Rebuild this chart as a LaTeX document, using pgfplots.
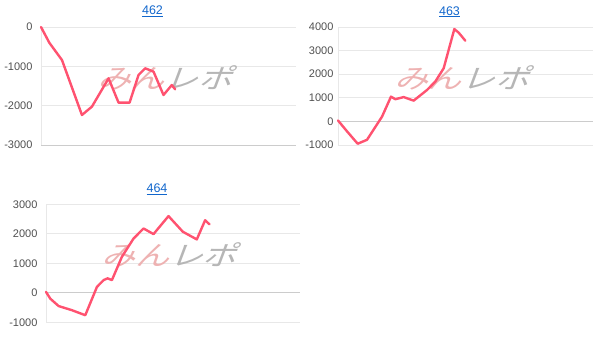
\documentclass[border=0pt]{standalone}
\usepackage{fontspec}
\setmainfont{Liberation Sans}
\newfontfamily\cjk{Noto Sans CJK JP}
\usepackage{pgfplots}
\pgfplotsset{compat=1.18}
\definecolor{linec}{RGB}{255,82,112}
\definecolor{gridc}{RGB}{232,232,232}
\definecolor{basec}{RGB}{204,204,204}
\definecolor{tickc}{RGB}{80,80,80}
\definecolor{titlec}{RGB}{17,102,204}
\definecolor{wmpink}{RGB}{238,178,178}
\definecolor{wmgray}{RGB}{182,182,182}
\pgfplotsset{
  mini/.style={
    scale only axis, width=255pt, height=118pt,
    xmin=0, xmax=766,
    axis line style={draw=none},
    xtick=\empty,
    major tick length=0pt,
    ymajorgrids, grid style={gridc, line width=0.9pt},
    yticklabel style={font=\fontsize{11}{12}\selectfont, text=tickc, anchor=east},
    /pgf/number format/assume math mode=true,
    /pgf/number format/1000 sep={},
    clip=false,
  },
  dl/.style={linec, line width=2.4pt, line join=round, line cap=round, no markers},
}
\newcommand{\mywm}{\node[font=\cjk\fontsize{27}{30}\selectfont, xscale=1.25, xslant=0.3, inner sep=0pt] at (rel axis cs:0.5,0.568) {\textcolor{wmpink}{みん}\textcolor{wmgray}{レポ}};}
\newcommand{\myttl}[1]{\node[anchor=base, font=\fontsize{12.5}{14}\selectfont, text=titlec, inner sep=0pt] at (rel axis cs:0.5,1) [xshift=-16pt, yshift=12pt] {\underline{#1}};}
\newcommand{\myvaxis}{\draw[gridc, line width=0.9pt] (rel axis cs:0,0) -- (rel axis cs:0,1);}
\begin{document}
\begin{tikzpicture}
\path[use as bounding box] (0,0) rectangle (605pt,-347pt);
% 462
\begin{axis}[mini, at={(41pt,-145pt)}, anchor=south west,
  ymin=-3000, ymax=0, ytick={-3000,-2000,-1000,0},
  yticklabel style={xshift=-5pt}]
\myvaxis
\draw[basec, line width=0.9pt] (rel axis cs:0,0) -- (rel axis cs:1,0);
\mywm
\myttl{462}
\addplot[dl] coordinates {(0,0) (25,-400) (63,-840) (123,-2237) (153,-2025) (203,-1305) (233,-1924) (266,-1924) (293,-1220) (313,-1050) (338,-1135) (368,-1729) (393,-1475) (403,-1585)};
\end{axis}
% 463
\begin{axis}[mini, at={(338pt,-145pt)}, anchor=south west, xmax=765,
  ymin=-1000, ymax=4000, ytick={-1000,0,1000,2000,3000,4000},
  yticklabel style={xshift=-1pt}]
\myvaxis
\draw[basec, line width=0.9pt] (axis cs:0,0) -- (axis cs:765,0);
\mywm
\myttl{463}
\addplot[dl] coordinates {(0,40) (27,-420) (59,-946) (87,-780) (132,200) (159,1050) (172,940) (197,1030) (227,880) (267,1330) (292,1690) (317,2250) (332,3030) (349,3912) (362,3760) (382,3420)};
\end{axis}
% 464
\begin{axis}[mini, at={(46pt,-322.3pt)}, anchor=south west, width=254pt, xmax=763,
  ymin=-1000, ymax=3000, ytick={-1000,0,1000,2000,3000},
  yticklabel style={xshift=-5pt}]
\myvaxis
\draw[basec, line width=0.9pt] (axis cs:0,0) -- (axis cs:763,0);
\mywm
\myttl{464}
\addplot[dl] coordinates {(0,30) (13,-200) (38,-450) (78,-590) (118,-760) (153,200) (173,430) (185,490) (198,430) (228,1220) (263,1840) (293,2180) (323,1990) (368,2600) (411,2070) (453,1810) (478,2460) (491,2320)};
\end{axis}
\end{tikzpicture}
\end{document}
